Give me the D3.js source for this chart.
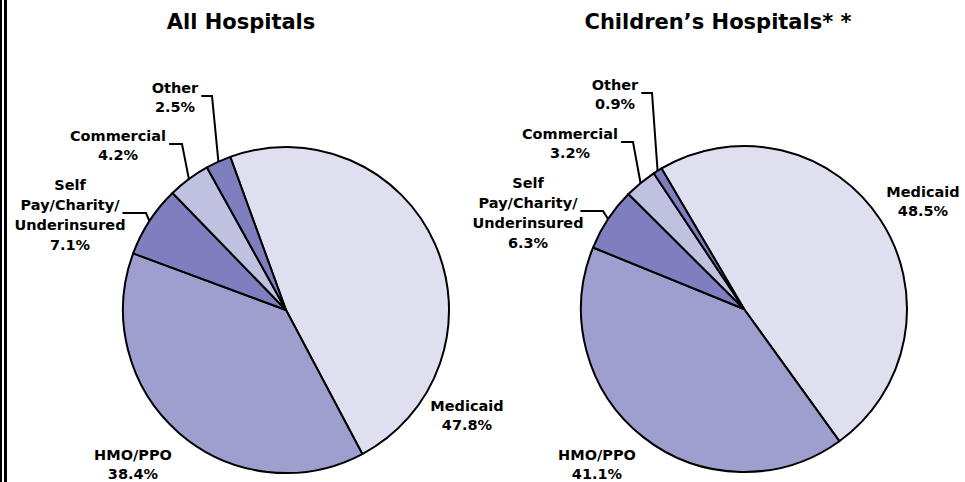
<!DOCTYPE html>
<html>
<head>
<meta charset="utf-8">
<script src="https://cdn.jsdelivr.net/npm/d3@7"></script>
<style>
  html, body { margin: 0; padding: 0; background: #fff; }
  svg text { font-family: "DejaVu Sans", Verdana, sans-serif; font-weight: bold; fill: #000; }
</style>
</head>
<body>
<svg id="chart" width="965" height="482"></svg>
<script>
// payer categories, same order in both pies (clockwise)
var categories = ['Medicaid', 'HMO/PPO', 'Self Pay/Charity/Underinsured', 'Commercial', 'Other'];
var labelLines = [['Medicaid'], ['HMO/PPO'], ['Self', 'Pay/Charity/', 'Underinsured'], ['Commercial'], ['Other']];
var allHospitals = [47.8, 38.4, 7.1, 4.2, 2.5];
var childrensHospitals = [48.5, 41.1, 6.3, 3.2, 0.9];
var chartTitles = ['All Hospitals', 'Children\u2019s Hospitals* *'];

var COLS = ['#dfdff0', '#9f9fcf', '#7f7fbf', '#c0c0e0', '#7f7fbf'];

// layout per pie: centre, radius, first slice angle, label anchors
var layouts = [
    {
        cx: 286, cy: 310, r: 163, start: -20, titleX: 241,
        labels: [
            {x: 467, y: 411},
            {x: 133, y: 460},
            {x: 70, y: 190, leadLine: 1, elbow: 146},
            {x: 118, y: 141, leadLine: 0, elbow: 182},
            {x: 175, y: 93, leadLine: 0, elbow: 212}
        ]
    },
    {
        cx: 744, cy: 309, r: 163, start: -30.4, titleX: 718,
        labels: [
            {x: 923, y: 197},
            {x: 597, y: 460},
            {x: 528, y: 188, leadLine: 1, elbow: 603},
            {x: 570, y: 139, leadLine: 0, elbow: 633},
            {x: 615, y: 90, leadLine: 0, elbow: 652}
        ]
    }
];

var svg = d3.select('#chart');
var rad = Math.PI / 180;

// double rule on the left edge
svg.append('rect').attr('x', 0).attr('y', 0).attr('width', 2).attr('height', 482).attr('fill', '#000');
svg.append('rect').attr('x', 4).attr('y', 0).attr('width', 3).attr('height', 482).attr('fill', '#000');

[allHospitals, childrensHospitals].forEach(function(values, ci) {
    var lay = layouts[ci],
    pie = d3.pie().sort(null)
        .startAngle(lay.start * rad)
        .endAngle(lay.start * rad + 2 * Math.PI),
    arc = d3.arc().innerRadius(0).outerRadius(lay.r),
    arcs = pie(values);

    svg.append('text')
        .attr('x', lay.titleX).attr('y', 29)
        .attr('text-anchor', 'middle')
        .style('font-size', '21px')
        .text(chartTitles[ci]);

    var g = svg.append('g').attr('transform', 'translate(' + lay.cx + ',' + lay.cy + ')');
    g.selectAll('path').data(arcs).enter().append('path')
        .attr('d', arc)
        .attr('fill', function(d, i) { return COLS[i]; })
        .attr('stroke', '#000')
        .attr('stroke-width', 2)
        .attr('stroke-linejoin', 'round');

    arcs.forEach(function(d, i) {
        var lab = lay.labels[i],
        lines = labelLines[i].concat([d3.format('.1f')(values[i]) + '%']),
        t = svg.append('text')
            .attr('text-anchor', 'middle')
            .style('font-size', '14.5px');
        lines.forEach(function(s, k) {
            var step = lines.length > 2 ? 20 : 19;
            t.append('tspan').attr('x', lab.x).attr('y', lab.y + k * step).text(s);
        });
        if (lab.leadLine !== undefined) {
            var node = t.selectAll('tspan').nodes()[lab.leadLine],
            w = node.getComputedTextLength(),
            ly = lab.y + lab.leadLine * 20 + 3,
            mid = (d.startAngle + d.endAngle) / 2,
            px = lay.cx + lay.r * Math.sin(mid),
            py = lay.cy - lay.r * Math.cos(mid);
            svg.append('path')
                .attr('d', 'M' + (lab.x + w / 2 + 3) + ',' + ly + 'H' + lab.elbow + 'L' + px + ',' + py)
                .attr('fill', 'none')
                .attr('stroke', '#000')
                .attr('stroke-width', 2);
        }
    });
});
</script>
</body>
</html>
